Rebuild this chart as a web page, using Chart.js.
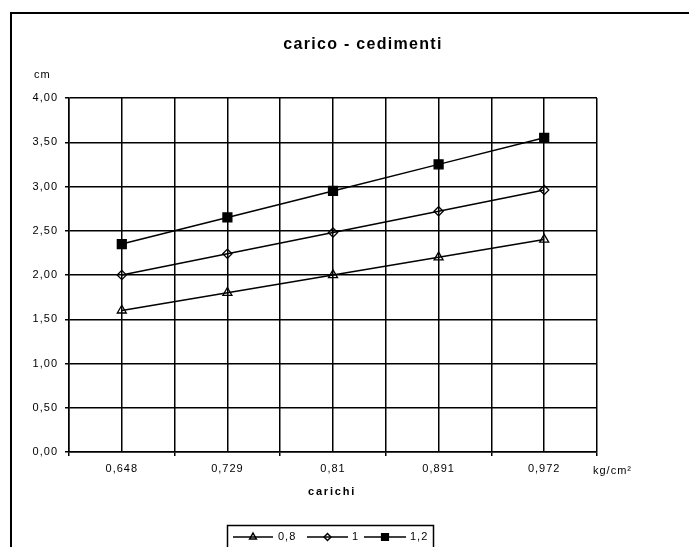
<!DOCTYPE html>
<html><head><meta charset="utf-8">
<script src="https://cdn.jsdelivr.net/npm/chart.js@4/dist/chart.umd.min.js"></script>
<style>html,body{margin:0;padding:0;background:#fff}canvas{display:block}</style>
</head><body>
<canvas id="c" width="689" height="547"></canvas>
<script>
// ---- data ----
const categories = ['0,648', '0,729', '0,81', '0,891', '0,972'];
const seriesNames = ['0,8', '1', '1,2'];
const series08 = [1.60, 1.80, 2.00, 2.20, 2.40];
const series10 = [2.00, 2.24, 2.48, 2.72, 2.96];
const series12 = [2.35, 2.65, 2.95, 3.25, 3.55];
const yMin = 0, yMax = 4, yStep = 0.5;
const chartTitle = 'carico - cedimenti';
const xTitle = 'carichi';
const xUnit = 'kg/cm²';
const yUnit = 'cm';

const FONT = '"Liberation Sans", Arial, sans-serif';
const toPoints = arr => arr.map((v, i) => ({x: i + 0.5, y: v}));

function ds(label, values, style, radius, fill) {
  return {
    label, data: toPoints(values),
    borderColor: '#000', borderWidth: 1.5, tension: 0, fill: false,
    pointStyle: style, pointRadius: radius, pointHoverRadius: radius,
    pointBackgroundColor: fill, pointBorderColor: '#000', pointBorderWidth: 1.3
  };
}

const extras = {
  id: 'extras',
  beforeLayout(chart) { chart.ctx.letterSpacing = '1px'; },
  beforeDraw(chart) {
    const ctx = chart.ctx;
    ctx.save();
    ctx.fillStyle = '#fff';
    ctx.fillRect(0, 0, chart.width, chart.height);
    ctx.restore();
    ctx.letterSpacing = '1px';
  },
  afterDraw(chart) {
    const ctx = chart.ctx;
    const a = chart.chartArea;
    ctx.save();
    ctx.fillStyle = '#000';
    ctx.strokeStyle = '#000';
    // outer frame
    ctx.lineWidth = 2;
    ctx.strokeRect(11, 13, 703, 560);
    // title
    ctx.font = 'bold 16px ' + FONT;
    ctx.letterSpacing = '1.3px';
    ctx.textAlign = 'center';
    ctx.textBaseline = 'middle';
    ctx.fillText(chartTitle, 363, 45);
    // y unit
    ctx.font = '11px ' + FONT;
    ctx.letterSpacing = '1px';
    ctx.textAlign = 'left';
    ctx.fillText(yUnit, 34, 75);
    // x unit
    ctx.fillText(xUnit, 593, 471);
    // x title
    ctx.font = 'bold 11px ' + FONT;
    ctx.letterSpacing = '1.8px';
    ctx.textAlign = 'center';
    ctx.fillText(xTitle, (a.left + a.right) / 2 - 1, 492);
    // legend
    ctx.lineWidth = 1.5;
    ctx.strokeRect(227.5, 525.5, 206, 40);
    const items = [
      {x0: 233, x1: 273, tx: 278},
      {x0: 307, x1: 348, tx: 352},
      {x0: 364, x1: 406, tx: 410}
    ];
    const ly = 537;
    ctx.font = '11px ' + FONT;
    ctx.letterSpacing = '1px';
    ctx.textAlign = 'left';
    chart.data.datasets.forEach((d, i) => {
      const it = items[i];
      ctx.lineWidth = 1.5;
      ctx.beginPath();
      ctx.moveTo(it.x0, ly);
      ctx.lineTo(it.x1, ly);
      ctx.stroke();
      ctx.fillStyle = d.pointBackgroundColor;
      Chart.helpers.drawPoint(ctx, {pointStyle: d.pointStyle, rotation: 0, borderWidth: 1.3, radius: d.pointRadius * 0.75}, (it.x0 + it.x1) / 2, ly);
      ctx.fillStyle = '#000';
      ctx.fillText(d.label, it.tx, ly);
    });
    ctx.restore();
  }
};

new Chart(document.getElementById('c'), {
  type: 'line',
  data: {
    datasets: [
      ds(seriesNames[0], series08, 'triangle', 5.2, 'rgba(0,0,0,0)'),
      ds(seriesNames[1], series10, 'rectRot', 4.6, 'rgba(0,0,0,0)'),
      ds(seriesNames[2], series12, 'rect', 6.3, '#000')
    ]
  },
  options: {
    responsive: false,
    animation: false,
    events: [],
    layout: {padding: {left: 0, right: 92, top: 98, bottom: 0}},
    plugins: {legend: {display: false}, title: {display: false}, tooltip: {enabled: false}},
    scales: {
      x: {
        type: 'linear', min: 0, max: categories.length,
        afterFit(s) { s.height = 95; },
        ticks: {
          stepSize: 0.5, autoSkip: false, maxRotation: 0, padding: 6,
          color: '#000', font: {family: FONT, size: 11},
          callback: v => (v % 1 === 0.5) ? categories[Math.floor(v)] : ''
        },
        grid: {
          color: '#000', lineWidth: 1.5, tickLength: 4,
          tickColor: c => (c.tick && c.tick.value % 1 === 0) ? '#000' : 'rgba(0,0,0,0)'
        },
        border: {color: '#000', width: 1.5}
      },
      y: {
        min: yMin, max: yMax,
        afterFit(s) { s.width = 69; },
        ticks: {
          stepSize: yStep, padding: 7, color: '#000', font: {family: FONT, size: 11},
          callback: v => Number(v).toFixed(2).replace('.', ',')
        },
        grid: {color: '#000', lineWidth: 1.5, tickLength: 4},
        border: {color: '#000', width: 1.5}
      }
    }
  },
  plugins: [extras]
});
</script>
</body></html>
